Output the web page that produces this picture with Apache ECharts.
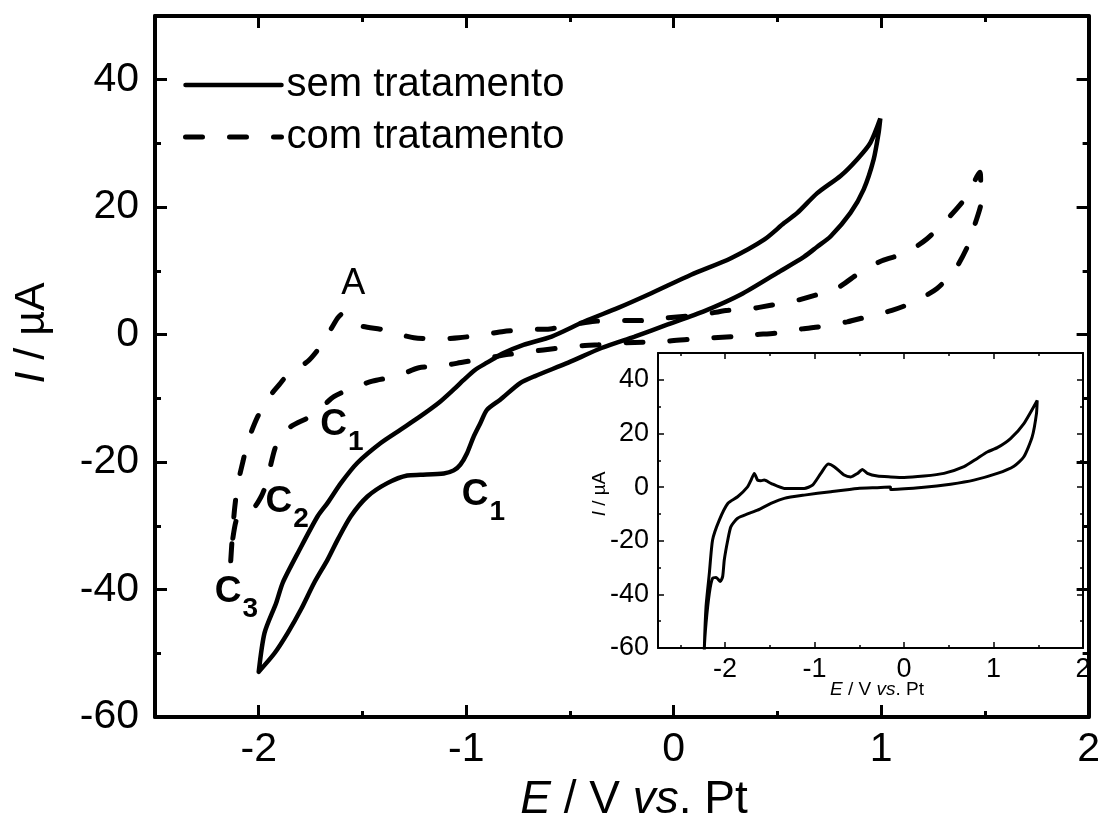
<!DOCTYPE html>
<html><head><meta charset="utf-8">
<script src="https://cdn.jsdelivr.net/npm/echarts@6/dist/echarts.min.js"></script>
<style>html,body{margin:0;padding:0;background:#fff}#c{width:1103px;height:820px}</style>
</head><body><div id="c"></div>
<script>
// ---- data (E / V vs. Pt, I / µA) ----
const semAnodic = [[-2.0,-52.9],[-1.972,-46.8],[-1.916,-42.1],[-1.884,-38.9],[-1.804,-33.8],[-1.716,-28.5],[-1.668,-26.4],[-1.604,-23.3],[-1.524,-20.1],[-1.412,-17.0],[-1.316,-14.9],[-1.22,-12.8],[-1.132,-10.7],[-1.06,-8.6],[-1.012,-7.1],[-0.956,-5.5],[-0.90,-4.4],[-0.82,-2.9],[-0.724,-1.6],[-0.588,-0.3],[-0.428,2.1],[-0.268,4.2],[-0.108,6.5],[0.084,9.4],[0.276,12.0],[0.436,14.9],[0.532,17.5],[0.596,19.1],[0.692,22.2],[0.804,24.9],[0.884,27.5],[0.948,30.1],[0.996,33.9]];
const semCathodic = [[0.988,31.7],[0.964,27.5],[0.916,22.8],[0.852,19.1],[0.756,15.4],[0.692,13.8],[0.628,12.2],[0.50,9.7],[0.324,6.3],[0.148,3.7],[-0.028,1.6],[-0.188,-0.3],[-0.348,-2.1],[-0.508,-4.4],[-0.668,-6.5],[-0.74,-7.6],[-0.836,-10.2],[-0.90,-11.8],[-0.932,-13.9],[-0.964,-16.0],[-0.996,-18.6],[-1.028,-20.4],[-1.06,-21.3],[-1.108,-21.8],[-1.22,-22.0],[-1.284,-22.1],[-1.38,-23.3],[-1.476,-25.4],[-1.556,-28.5],[-1.62,-32.2],[-1.668,-35.3],[-1.732,-38.9],[-1.796,-43.1],[-1.86,-46.8],[-1.924,-50.0],[-2.0,-52.9]];
const comAnodic = [[-2.135,-35.5],[-2.128,-32.0],[-2.116,-27.2],[-2.10,-23.3],[-2.076,-19.9],[-2.052,-16.7],[-2.004,-12.8],[-1.948,-9.7],[-1.90,-7.8],[-1.86,-6.3],[-1.764,-4.2],[-1.72,-2.6],[-1.676,-0.5],[-1.62,2.6],[-1.595,3.3],[-1.55,2.0],[-1.50,1.3],[-1.404,0.8],[-1.348,0.3],[-1.252,-0.5],[-1.132,-0.7],[-1.036,-0.5],[-0.916,0.0],[-0.82,0.5],[-0.70,0.8],[-0.596,0.9],[-0.484,1.6],[-0.38,2.1],[-0.268,2.2],[-0.164,2.2],[-0.044,2.6],[0.132,3.1],[0.252,3.8],[0.356,4.0],[0.468,4.6],[0.572,5.2],[0.684,6.2],[0.788,7.3],[0.90,9.8],[1.004,11.6],[1.116,12.8],[1.22,15.0],[1.332,18.6],[1.42,22.0],[1.476,25.5]];
const comCathodic = [[1.48,24.0],[1.484,21.2],[1.452,17.3],[1.42,14.1],[1.356,10.2],[1.268,7.2],[1.156,5.1],[1.052,3.8],[0.932,2.8],[0.836,2.0],[0.716,1.3],[0.62,0.9],[0.508,0.3],[0.396,0.0],[0.292,-0.3],[0.084,-0.7],[-0.036,-1.05],[-0.252,-1.3],[-0.364,-1.6],[-0.468,-1.8],[-0.58,-2.2],[-0.676,-2.6],[-0.796,-3.1],[-0.90,-3.7],[-1.012,-4.3],[-1.116,-4.9],[-1.228,-5.2],[-1.332,-6.5],[-1.452,-7.3],[-1.55,-8.4],[-1.636,-9.7],[-1.70,-11.5],[-1.748,-12.8],[-1.844,-14.4],[-1.90,-16.2],[-1.924,-18.1],[-1.948,-21.2],[-1.97,-24.0],[-1.988,-25.4],[-2.02,-27.0],[-2.068,-27.5],[-2.105,-28.8],[-2.125,-32.0],[-2.135,-35.5]];
const insetAnodic = [[-2.235,-70],[-2.232,-60],[-2.213,-44.5],[-2.176,-32.1],[-2.14,-19.7],[-2.065,-12.3],[-1.97,-6.1],[-1.86,-3.6],[-1.749,0.1],[-1.71,2.6],[-1.674,5.1],[-1.637,2.6],[-1.6,2.4],[-1.563,2.6],[-1.488,1.4],[-1.339,-0.5],[-1.116,-0.5],[-1.023,0.7],[-0.93,5.1],[-0.848,8.6],[-0.781,7.6],[-0.67,4.5],[-0.595,3.8],[-0.52,5.1],[-0.465,6.6],[-0.41,5.1],[-0.298,4.1],[-0.149,3.8],[0.0,3.6],[0.223,4.1],[0.446,5.1],[0.67,7.6],[0.818,10.7],[0.93,13.1],[1.042,14.7],[1.19,18.1],[1.339,23.7],[1.488,32.3]];
const insetCathodic = [[1.48,27.4],[1.432,18.7],[1.339,11.3],[1.228,7.8],[1.042,5.1],[0.78,2.6],[0.52,1.1],[0.223,-0.1],[-0.13,-0.9],[-0.149,-0.9],[-0.152,0.0],[-0.3,-0.2],[-0.52,-0.5],[-0.818,-1.7],[-1.116,-3.0],[-1.339,-4.2],[-1.488,-6.1],[-1.637,-8.6],[-1.749,-10.0],[-1.86,-11.6],[-1.935,-14.7],[-1.97,-19.7],[-2.009,-27.1],[-2.027,-33.3],[-2.054,-35.2],[-2.10,-33.7],[-2.14,-34.0],[-2.176,-39.5],[-2.213,-50.7],[-2.232,-60],[-2.235,-70]];
const mainXTicks = [-2,-1,0,1,2];
const mainXMinor = [-1.5,-0.5,0.5,1.5];
const mainYTicks = [-60,-40,-20,0,20,40];
const mainYMinor = [-50,-30,-10,10,30];
const insetXTicks = [-2,-1,0,1,2];
const insetXMinor = [-2.5,-1.5,-0.5,0.5,1.5];
const insetYTicks = [-60,-40,-20,0,20,40];
const insetYMinor = [-50,-30,-10,10,30];
const annotations = [
  {value:[-1.602,10.8], text:'{a|A}'},
  {value:[-1.703,-11.3], text:'{c|C}{s|1}'},
  {value:[-1.021,-22.3], text:'{c|C}{s|1}'},
  {value:[-1.967,-23.4], text:'{c|C}{s|2}'},
  {value:[-2.212,-37.5], text:'{c|C}{s|3}'}
];
const seriesNames = ['sem tratamento','com tratamento'];

const FONT = '"Liberation Sans", Arial, Helvetica, sans-serif';
const SOLID = {color:'#000', width:4.5, type:'solid', cap:'round'};
const DASHED = {color:'#000', width:5, type:[17,27], cap:'round'};
function ax(o){
  return {
    type:'value', gridIndex:o.grid, position:o.pos, min:o.min, max:o.max,
    axisLine:{show:!!o.lw, onZero:false, lineStyle:{color:'#000', width:o.lw||1}},
    axisTick:{show:true, inside:true, length:o.len, customValues:o.ticks, lineStyle:{color:'#000', width:o.tw}},
    axisLabel:{show:!!o.fs, customValues:o.ticks, fontSize:o.fs||12, color:'#000', fontFamily:FONT, margin:o.margin||8},
    splitLine:{show:false}, z: 5
  };
}
const xAxis = [
  ax({grid:0,pos:'bottom',min:-2.5,max:2,ticks:mainXTicks,len:12,tw:3,lw:4,fs:41,margin:12}),
  ax({grid:0,pos:'bottom',min:-2.5,max:2,ticks:mainXMinor,len:6,tw:3}),
  ax({grid:0,pos:'top',min:-2.5,max:2,ticks:mainXTicks,len:12,tw:3,lw:4}),
  ax({grid:0,pos:'top',min:-2.5,max:2,ticks:mainXMinor,len:6,tw:3}),
  ax({grid:1,pos:'bottom',min:-2.75,max:2,ticks:insetXTicks,len:6,tw:1.5,lw:2,fs:27,margin:8}),
  ax({grid:1,pos:'bottom',min:-2.75,max:2,ticks:insetXMinor,len:3,tw:1.5}),
  ax({grid:1,pos:'top',min:-2.75,max:2,ticks:insetXTicks,len:6,tw:1.5,lw:2}),
  ax({grid:1,pos:'top',min:-2.75,max:2,ticks:insetXMinor,len:3,tw:1.5})
];
const yAxis = [
  ax({grid:0,pos:'left',min:-60,max:50,ticks:mainYTicks,len:12,tw:3,lw:4,fs:41,margin:16}),
  ax({grid:0,pos:'left',min:-60,max:50,ticks:mainYMinor,len:6,tw:3}),
  ax({grid:0,pos:'right',min:-60,max:50,ticks:mainYTicks,len:12,tw:3,lw:4}),
  ax({grid:0,pos:'right',min:-60,max:50,ticks:mainYMinor,len:6,tw:3}),
  ax({grid:1,pos:'left',min:-60,max:50,ticks:insetYTicks,len:6,tw:1.5,lw:2,fs:27,margin:9}),
  ax({grid:1,pos:'left',min:-60,max:50,ticks:insetYMinor,len:3,tw:1.5}),
  ax({grid:1,pos:'right',min:-60,max:50,ticks:insetYTicks,len:6,tw:1.5,lw:2}),
  ax({grid:1,pos:'right',min:-60,max:50,ticks:insetYMinor,len:3,tw:1.5})
];
function richAxisName(size){
  return {i:{fontStyle:'italic', fontSize:size, fontFamily:FONT, fill:'#000'}, n:{fontSize:size, fontFamily:FONT, fill:'#000'}};
}

const chart = echarts.init(document.getElementById('c'), null, {renderer:'canvas'});
chart.setOption({
  animation:false,
  backgroundColor:'#fff',
  grid:[
    {left:155, top:16, width:937, height:701, containLabel:false},
    {left:658, top:353, width:425, height:295, containLabel:false, show:true, backgroundColor:'#fff', borderWidth:0}
  ],
  xAxis, yAxis,
  legend:{
    data:[
      {name:seriesNames[0], lineStyle:SOLID},
      {name:seriesNames[1], lineStyle:DASHED}
    ],
    orient:'vertical', left:183, top:65, padding:0,
    itemWidth:96, itemHeight:20, itemGap:12, selectedMode:false,
    itemStyle:{opacity:0},
    textStyle:{fontSize:40, color:'#000', fontFamily:FONT}
  },
  graphic:[
    {type:'text', x:634, y:800, style:{
      x:0, y:0, align:'center', verticalAlign:'middle',
      rich:richAxisName(46), text:'{i|E}{n| / V }{i|vs}{n|. Pt}'}},
    {type:'text', x:32, y:333, rotation:Math.PI/2, style:{
      x:0, y:0, align:'center', verticalAlign:'middle',
      rich:richAxisName(43), text:'{i|I}{n| / µA}'}},
    {type:'text', x:877, y:690, style:{
      x:0, y:0, align:'center', verticalAlign:'middle',
      rich:richAxisName(19), text:'{i|E}{n| / V }{i|vs}{n|. Pt}'}},
    {type:'text', x:600, y:494, rotation:Math.PI/2, style:{
      x:0, y:0, align:'center', verticalAlign:'middle',
      rich:richAxisName(19), text:'{i|I}{n| / µA}'}}
  ],
  series:[
    {name:seriesNames[0], type:'line', xAxisIndex:0, yAxisIndex:0, data:semAnodic.concat(semCathodic),
     symbol:'none', smooth:0.25, lineStyle:SOLID, itemStyle:{color:'#000'}, z:3},
    {name:seriesNames[1], type:'line', xAxisIndex:0, yAxisIndex:0, data:comAnodic.concat(comCathodic),
     symbol:'none', smooth:0.25, lineStyle:DASHED, itemStyle:{color:'#000'}, z:3},
    {name:'inset', type:'line', xAxisIndex:4, yAxisIndex:4, data:insetAnodic.concat(insetCathodic),
     symbol:'none', smooth:0.2, clip:true, lineStyle:{color:'#000', width:3}, itemStyle:{color:'#000'}, z:3},
    {name:'labels', type:'scatter', xAxisIndex:0, yAxisIndex:0, symbolSize:0, silent:true,
     itemStyle:{color:'#000', opacity:1},
     emphasis:{disabled:true},
     data:annotations.map(a=>({value:a.value, label:{formatter:a.text}})),
     label:{show:true, position:[0,0], align:'left', verticalAlign:'top', color:'#000', opacity:1,
       rich:{
         a:{fontSize:36, fontFamily:FONT, color:'#000', opacity:1, lineHeight:40, verticalAlign:'top'},
         c:{fontSize:37, fontWeight:'bold', fontFamily:FONT, color:'#000', opacity:1, lineHeight:40, verticalAlign:'top'},
         s:{fontSize:28, fontWeight:'bold', fontFamily:FONT, color:'#000', opacity:1, lineHeight:28, padding:[22,0,0,1], verticalAlign:'top'}
       }}, z:4}
  ]
});
</script></body></html>
